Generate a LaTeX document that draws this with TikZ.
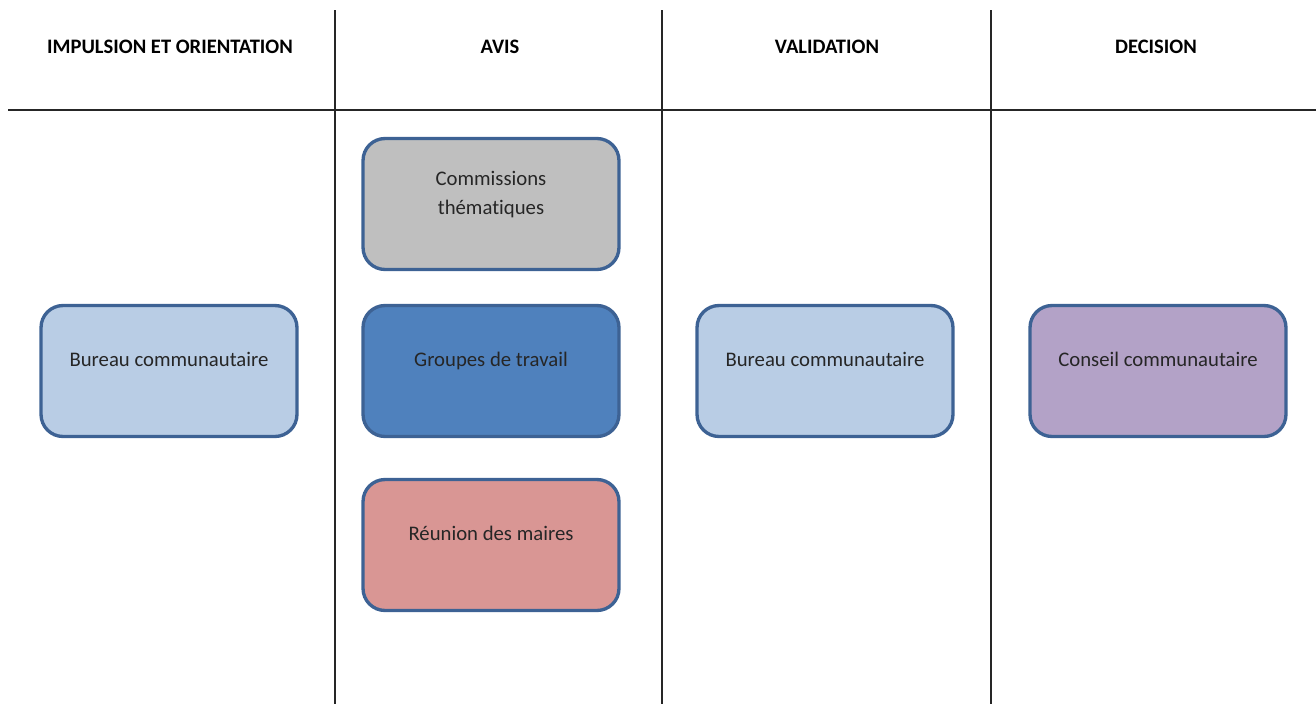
\documentclass[tikz,border=0pt]{standalone}
\usepackage{fontspec}
\setmainfont[Ligatures=NoCommon]{Carlito}
\usepackage{xcolor}
\definecolor{boxborder}{HTML}{3D6294}
\definecolor{lightblue}{HTML}{B9CDE5}
\definecolor{midgray}{HTML}{BFBFBF}
\definecolor{darkblue}{HTML}{4F81BD}
\definecolor{rosered}{HTML}{D99694}
\definecolor{lilac}{HTML}{B3A2C7}

\begin{document}
\begin{tikzpicture}[x=0.02cm, y=-0.02cm]
        % ================= 样式定义 =================
        \tikzset{
            % 列标题 (粗体)
            colhead/.style={font=\bfseries\fontsize{11.7}{14}\selectfont, text=black, inner sep=0pt},
            % 圆角方框, 文字略偏上
            bbox/.style={rectangle, rounded corners=4.4mm, draw=boxborder, line width=1.9pt,
                minimum width=5.12cm, minimum height=2.62cm, align=center, inner sep=2pt,
                text depth=4.5mm, font=\fontsize{11.8}{16.5}\selectfont, text=black!85},
            % 表格分隔线
            grid_line/.style={line width=0.8pt, black!85}
        }

        \useasboundingbox (0,0) rectangle (1316,704);

        % ================= 分隔线 =================
        \coordinate (h_left) at (8,110);
        \coordinate (h_right) at (1316,110);
        \coordinate (v1_top) at (335,10);
        \coordinate (v1_bot) at (335,704);
        \coordinate (v2_top) at (662,10);
        \coordinate (v2_bot) at (662,704);
        \coordinate (v3_top) at (991,10);
        \coordinate (v3_bot) at (991,704);

        \draw[grid_line] (h_left) -- (h_right);
        \draw[grid_line] (v1_top) -- (v1_bot);
        \draw[grid_line] (v2_top) -- (v2_bot);
        \draw[grid_line] (v3_top) -- (v3_bot);

        % ================= 列标题 =================
        \node[colhead] (head_impulsion) at (170,47) {IMPULSION ET ORIENTATION};
        \node[colhead] (head_avis) at (500,47) {AVIS};
        \node[colhead] (head_validation) at (827,47) {VALIDATION};
        \node[colhead] (head_decision) at (1156,47) {DECISION};

        % ================= 方框 =================
        % 第一列
        \node[bbox, fill=lightblue] (bureau_impulsion) at (169,371) {Bureau communautaire};

        % 第二列: 三个方框
        \node[bbox, fill=midgray] (commissions) at (491,204) {Commissions\\thématiques};
        \node[bbox, fill=darkblue] (groupes) at (491,371) {Groupes de travail};
        \node[bbox, fill=rosered] (reunion) at (491,545) {Réunion des maires};

        % 第三列
        \node[bbox, fill=lightblue] (bureau_validation) at (825,371) {Bureau communautaire};

        % 第四列
        \node[bbox, fill=lilac] (conseil) at (1158,371) {Conseil communautaire};

    \end{tikzpicture}
\end{document}
